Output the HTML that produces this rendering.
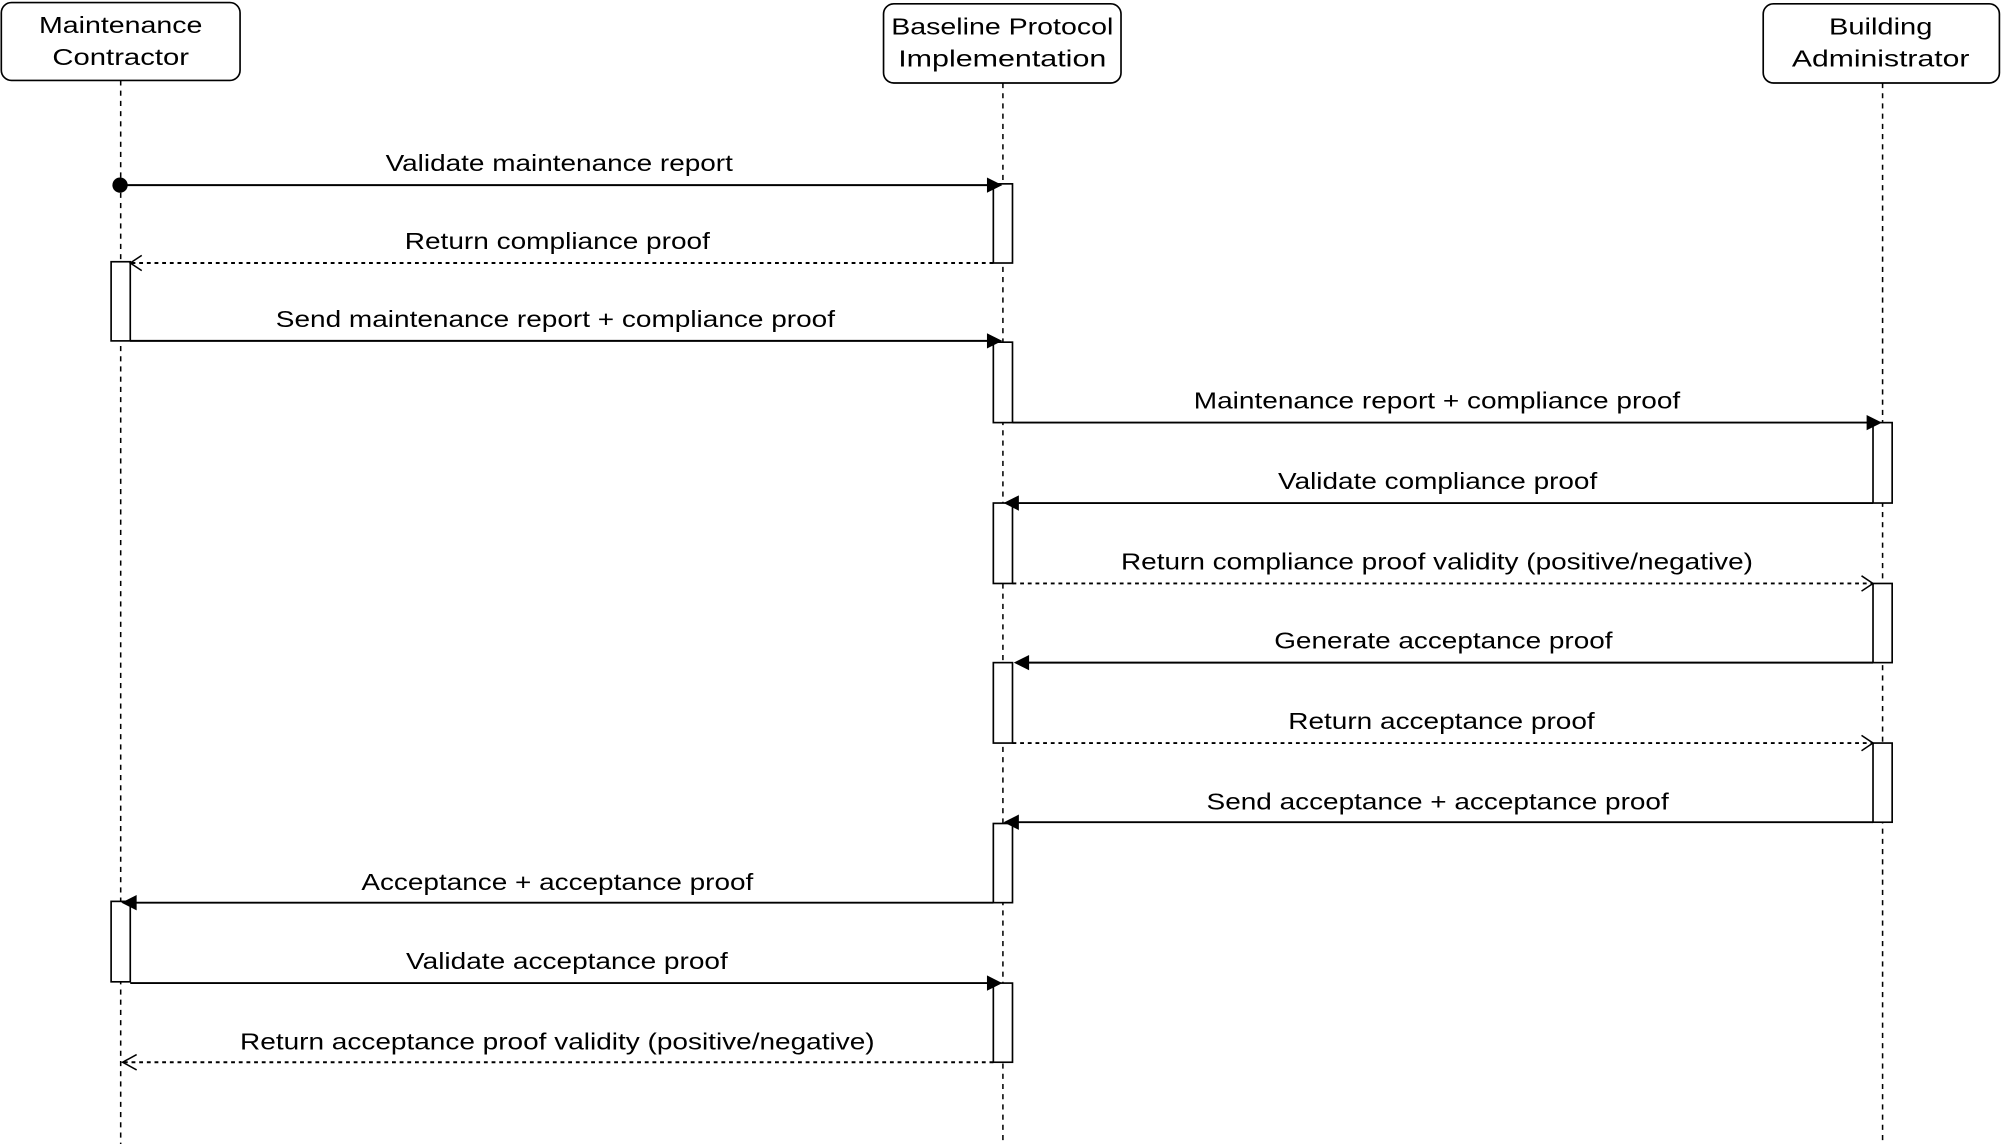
<!DOCTYPE html>
<html><head><meta charset="utf-8"><style>
html,body{margin:0;padding:0;background:#fff;}
svg{display:block;}
text{font-family:"Liberation Sans",sans-serif;font-size:18px;fill:#000;}
</style></head><body>
<svg width="2002" height="1146" viewBox="0 0 1568 897.6" xmlns="http://www.w3.org/2000/svg">
<g fill="none" stroke="#000" stroke-width="1.2" stroke-dasharray="4,4">
<line x1="94.5" y1="63" x2="94.5" y2="896"/>
<line x1="785.5" y1="65" x2="785.5" y2="896"/>
<line x1="1474.5" y1="65" x2="1474.5" y2="896"/>
</g>
<g fill="#fff" stroke="#000" stroke-width="1.3">
<rect x="1" y="2" width="187" height="61" rx="8"/>
<rect x="692" y="3" width="186" height="62" rx="8"/>
<rect x="1381" y="3" width="185" height="62" rx="8"/>
</g>
<g text-anchor="middle">
<text x="94.5" y="26" textLength="128" lengthAdjust="spacingAndGlyphs">Maintenance</text>
<text x="94.5" y="51" textLength="107" lengthAdjust="spacingAndGlyphs">Contractor</text>
<text x="785" y="27" textLength="174" lengthAdjust="spacingAndGlyphs">Baseline Protocol</text>
<text x="785" y="52" textLength="163" lengthAdjust="spacingAndGlyphs">Implementation</text>
<text x="1473" y="27" textLength="81" lengthAdjust="spacingAndGlyphs">Building</text>
<text x="1473" y="52" textLength="139" lengthAdjust="spacingAndGlyphs">Administrator</text>
</g>
<g fill="#fff" stroke="#000" stroke-width="1.3">
<rect x="778" y="144" width="15" height="62"/>
<rect x="87" y="205" width="15" height="62"/>
<rect x="778" y="268" width="15" height="63"/>
<rect x="1467" y="331" width="15" height="63"/>
<rect x="778" y="394" width="15" height="63"/>
<rect x="1467" y="457" width="15" height="62"/>
<rect x="778" y="519" width="15" height="63"/>
<rect x="1467" y="582" width="15" height="62"/>
<rect x="778" y="645" width="15" height="62"/>
<rect x="87" y="706" width="15" height="63"/>
<rect x="778" y="770" width="15" height="62"/>
</g>
<g stroke="#000" stroke-width="1.5" fill="none">
<line x1="94" y1="145" x2="778" y2="145"/>
<line x1="778" y1="206" x2="102" y2="206" stroke-dasharray="3,3"/>
<line x1="102" y1="267" x2="778" y2="267"/>
<line x1="793" y1="331" x2="1467" y2="331"/>
<line x1="1467" y1="394" x2="793" y2="394"/>
<line x1="793" y1="457" x2="1467" y2="457" stroke-dasharray="3,3"/>
<line x1="1467" y1="519" x2="800" y2="519"/>
<line x1="793" y1="582" x2="1467" y2="582" stroke-dasharray="3,3"/>
<line x1="1467" y1="644" x2="793" y2="644"/>
<line x1="778" y1="707" x2="100" y2="707"/>
<line x1="102" y1="770" x2="778" y2="770"/>
<line x1="778" y1="832" x2="96" y2="832" stroke-dasharray="3,3"/>
<polyline points="111,200 102,206 111,212" stroke-width="1.2"/>
<polyline points="1458,451 1467,457 1458,463" stroke-width="1.2"/>
<polyline points="1458,576 1467,582 1458,588" stroke-width="1.2"/>
<polyline points="107,826 96,832 107,838" stroke-width="1.2"/>
</g>
<circle cx="94" cy="145" r="6" fill="#000"/>
<g fill="#000">
<polygon points="773,139 785,145 773,151"/>
<polygon points="773,261 785,267 773,273"/>
<polygon points="1462,325 1474,331 1462,337"/>
<polygon points="798,388 786,394 798,400"/>
<polygon points="806,513 794,519 806,525"/>
<polygon points="798,638 786,644 798,650"/>
<polygon points="107,701 95,707 107,713"/>
<polygon points="773,764 785,770 773,776"/>
</g>
<g text-anchor="middle">
<text x="438" y="134" textLength="272" lengthAdjust="spacingAndGlyphs">Validate maintenance report</text>
<text x="436.5" y="195" textLength="239" lengthAdjust="spacingAndGlyphs">Return compliance proof</text>
<text x="435" y="256" textLength="438" lengthAdjust="spacingAndGlyphs">Send maintenance report + compliance proof</text>
<text x="1125.5" y="320" textLength="381" lengthAdjust="spacingAndGlyphs">Maintenance report + compliance proof</text>
<text x="1126" y="383" textLength="250" lengthAdjust="spacingAndGlyphs">Validate compliance proof</text>
<text x="1125.5" y="446" textLength="495" lengthAdjust="spacingAndGlyphs">Return compliance proof validity (positive/negative)</text>
<text x="1130.5" y="508" textLength="265" lengthAdjust="spacingAndGlyphs">Generate acceptance proof</text>
<text x="1129" y="571" textLength="240" lengthAdjust="spacingAndGlyphs">Return acceptance proof</text>
<text x="1126" y="634" textLength="362" lengthAdjust="spacingAndGlyphs">Send acceptance + acceptance proof</text>
<text x="436.5" y="697" textLength="307" lengthAdjust="spacingAndGlyphs">Acceptance + acceptance proof</text>
<text x="444" y="759" textLength="252" lengthAdjust="spacingAndGlyphs">Validate acceptance proof</text>
<text x="436.5" y="822" textLength="497" lengthAdjust="spacingAndGlyphs">Return acceptance proof validity (positive/negative)</text>
</g>
</svg>
</body></html>
